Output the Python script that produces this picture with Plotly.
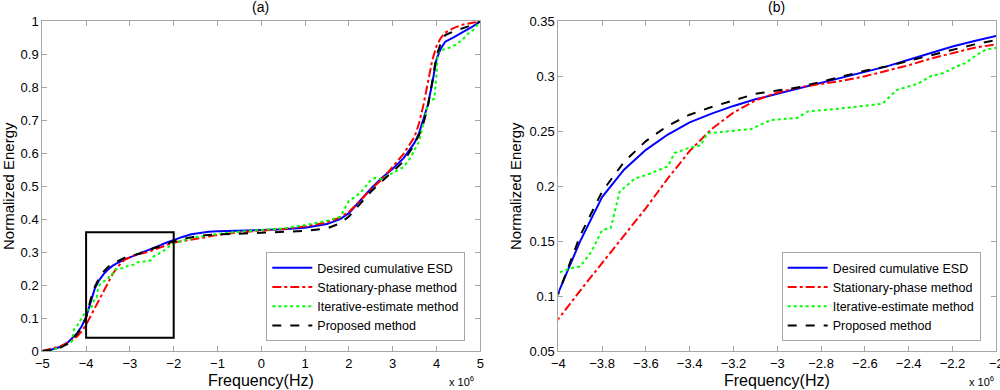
import plotly.graph_objects as go

# Frequency axis values are in units of 10^6 Hz
freq = [-5, -4.8, -4.6, -4.4, -4.2, -4.1, -4.0, -3.9, -3.8, -3.7, -3.6, -3.5, -3.4, -3.3,
        -3.2, -3.1, -3.0, -2.9, -2.8, -2.7, -2.6, -2.5, -2.4, -2.3, -2.2, -2.1, -2.0,
        -1.8, -1.6, -1.4, -1.2, -1.0, -0.5, 0, 0.5, 1.0, 1.5, 1.8, 2.0, 2.25, 2.5, 2.75,
        3.0, 3.25, 3.5, 3.6, 3.7, 3.8, 3.9, 4.0, 4.1, 4.2, 4.4, 4.6, 4.8, 5.0]

desired = [0, 0.004, 0.012, 0.028, 0.055, 0.075, 0.103, 0.150, 0.190, 0.215, 0.233, 0.247,
           0.258, 0.266, 0.273, 0.279, 0.284, 0.289, 0.294, 0.299, 0.304, 0.309, 0.315,
           0.321, 0.327, 0.332, 0.337, 0.346, 0.354, 0.359, 0.362, 0.363, 0.365, 0.366,
           0.369, 0.374, 0.385, 0.400, 0.418, 0.455, 0.492, 0.525, 0.553, 0.585, 0.632,
           0.660, 0.700, 0.745, 0.810, 0.885, 0.918, 0.938, 0.952, 0.966, 0.982, 1.0]

proposed = [0, 0.003, 0.009, 0.024, 0.052, 0.073, 0.102, 0.155, 0.195, 0.222, 0.241, 0.255,
            0.265, 0.272, 0.278, 0.284, 0.287, 0.290, 0.295, 0.300, 0.305, 0.309, 0.314,
            0.319, 0.324, 0.329, 0.333, 0.340, 0.346, 0.350, 0.352, 0.354, 0.356, 0.358,
            0.360, 0.364, 0.372, 0.387, 0.408, 0.445, 0.483, 0.514, 0.544, 0.575, 0.628,
            0.655, 0.690, 0.740, 0.815, 0.895, 0.935, 0.958, 0.970, 0.978, 0.988, 1.0]

stationary = [0, 0.006, 0.014, 0.025, 0.045, 0.060, 0.079, 0.105, 0.130, 0.155, 0.180, 0.207,
              0.232, 0.252, 0.267, 0.278, 0.285, 0.290, 0.293, 0.296, 0.300, 0.305, 0.310,
              0.316, 0.321, 0.326, 0.329, 0.333, 0.338, 0.344, 0.349, 0.352, 0.360, 0.365,
              0.370, 0.378, 0.390, 0.405, 0.422, 0.455, 0.490, 0.520, 0.560, 0.598, 0.650,
              0.690, 0.745, 0.815, 0.880, 0.925, 0.950, 0.966, 0.980, 0.990, 0.995, 1.0]

freq_iter = [-5, -4.8, -4.6, -4.4, -4.32, -4.3, -4.28, -4.2, -4.1, -4.0, -3.95, -3.9, -3.85,
             -3.8, -3.76, -3.72, -3.65, -3.6, -3.5, -3.47, -3.4, -3.35, -3.32, -3.2, -3.12,
             -3.03, -2.91, -2.86, -2.74, -2.52, -2.455, -2.36, -2.30, -2.24, -2.18, -2.14,
             -2.1, -2.05, -2.0, -1.8, -1.5, -1.0, -0.5, 0, 0.5, 1.0, 1.5, 1.8, 1.95, 2.0,
             2.25, 2.5, 2.6, 2.75, 3.0, 3.25, 3.4, 3.6, 3.7, 3.8, 3.85, 3.95, 4.0, 4.03, 4.1,
             4.3, 4.45, 4.6, 4.7, 4.85, 5.0]
iterative = [0, 0.003, 0.010, 0.022, 0.030, 0.045, 0.065, 0.078, 0.100, 0.121, 0.125, 0.127,
             0.140, 0.160, 0.162, 0.195, 0.207, 0.210, 0.218, 0.230, 0.235, 0.237, 0.248,
             0.250, 0.252, 0.260, 0.262, 0.268, 0.270, 0.275, 0.2875, 0.293, 0.300, 0.303,
             0.309, 0.312, 0.318, 0.324, 0.326, 0.335, 0.345, 0.355, 0.362, 0.366, 0.372,
             0.382, 0.395, 0.407, 0.440, 0.455, 0.478, 0.518, 0.525, 0.522, 0.540, 0.558,
             0.585, 0.635, 0.690, 0.745, 0.760, 0.765, 0.840, 0.905, 0.912, 0.920, 0.930,
             0.945, 0.960, 0.975, 1.0]

series_names = ["Desired cumulative ESD", "Stationary-phase method",
                "Iterative-estimate method", "Proposed method"]
panel_titles = ["(a)", "(b)"]
x_label = "Frequency(Hz)"
y_label = "Normalized Energy"
x_exponent = "x 10<sup>6</sup>"

range_a_x = [-5, 5]
range_a_y = [0, 1]
range_b_x = [-4, -2]
range_b_y = [0.05, 0.35]
zoom_box_x = [-4, -2]
zoom_box_y = [0.04, 0.36]

ticks_a_x = [-5, -4, -3, -2, -1, 0, 1, 2, 3, 4, 5]
ticks_a_y = [0, 0.1, 0.2, 0.3, 0.4, 0.5, 0.6, 0.7, 0.8, 0.9, 1]
ticks_b_x = [-4, -3.8, -3.6, -3.4, -3.2, -3, -2.8, -2.6, -2.4, -2.2, -2]
ticks_b_y = [0.05, 0.1, 0.15, 0.2, 0.25, 0.3, 0.35]

styles = [
    dict(color="#0000FF", dash="solid", width=2),
    dict(color="#FF0000", dash="dashdot", width=2),
    dict(color="#00FF00", dash="dot", width=2),
    dict(color="#000000", dash="dash", width=2),
]
data_sets = [(freq, desired), (freq, stationary), (freq_iter, iterative), (freq, proposed)]

FONT = "Liberation Sans, Arial, sans-serif"
fig = go.Figure()

for panel, (xa, ya, lg) in enumerate([("x", "y", "legend"), ("x2", "y2", "legend2")]):
    for name, (xs, ys), st in zip(series_names, data_sets, styles):
        fig.add_trace(go.Scatter(x=xs, y=ys, mode="lines", name=name, line=st,
                                 xaxis=xa, yaxis=ya, legend=lg, hoverinfo="skip"))

W, H = 1000, 390
dom_a = [42.3 / W, 480.3 / W]
dom_b = [558.3 / W, 996.3 / W]
dom_y = [39 / H, 1 - 21.3 / H]

axis_common = dict(showgrid=False, zeroline=False, showline=True, linecolor="#a6a6a6",
                   linewidth=1, mirror="ticks", ticks="inside", ticklen=5,
                   tickcolor="#a6a6a6", tickfont=dict(size=13, color="black", family=FONT),
                   automargin=False, ticklabeloverflow="allow")

legend_common = dict(bgcolor="white", bordercolor="#a6a6a6", borderwidth=1,
                     font=dict(size=12.5, family=FONT), tracegroupgap=0, itemwidth=40,
                     xanchor="right", yanchor="bottom", y=(H - 341) / H)

fig.update_layout(
    width=W, height=H, margin=dict(l=0, r=0, t=0, b=0),
    paper_bgcolor="white", plot_bgcolor="white",
    font=dict(family=FONT, color="black"),
    xaxis=dict(domain=dom_a, range=range_a_x, tickvals=ticks_a_x, anchor="y", **axis_common),
    yaxis=dict(domain=dom_y, range=range_a_y, tickvals=ticks_a_y, anchor="x", **axis_common),
    xaxis2=dict(domain=dom_b, range=range_b_x, tickvals=ticks_b_x, anchor="y2", **axis_common),
    yaxis2=dict(domain=dom_y, range=range_b_y, tickvals=ticks_b_y, anchor="x2", **axis_common),
    legend=dict(x=465.3 / W, **legend_common),
    legend2=dict(x=980.7 / W, **legend_common),
    showlegend=True,
)

fig.add_shape(type="rect", xref="x", yref="y", x0=zoom_box_x[0], x1=zoom_box_x[1],
              y0=zoom_box_y[0], y1=zoom_box_y[1], line=dict(color="black", width=2))

annots = []
for cx, title in zip([260.5, 776.5], panel_titles):
    annots.append(dict(text=title, x=cx / W, y=1 - 7 / H, xref="paper", yref="paper",
                       showarrow=False, font=dict(size=14), xanchor="center", yanchor="middle"))
for cx in [260.5, 776.5]:
    annots.append(dict(text=x_label, x=cx / W, y=1 - 380 / H, xref="paper", yref="paper",
                       showarrow=False, font=dict(size=16), xanchor="center", yanchor="middle"))
for cx in [8, 515]:
    annots.append(dict(text=y_label, x=cx / W, y=1 - 186 / H, xref="paper", yref="paper",
                       showarrow=False, font=dict(size=15), textangle=-90,
                       xanchor="center", yanchor="middle"))
for rx in [476, 996]:
    annots.append(dict(text=x_exponent, x=rx / W, y=1 - 381 / H, xref="paper", yref="paper",
                       showarrow=False, font=dict(size=11), xanchor="right", yanchor="middle"))
fig.update_layout(annotations=annots)

fig.write_html("out.html", config={"displayModeBar": False},
               post_script="document.body.style.margin='0';"
                           "document.documentElement.style.overflow='hidden';")
